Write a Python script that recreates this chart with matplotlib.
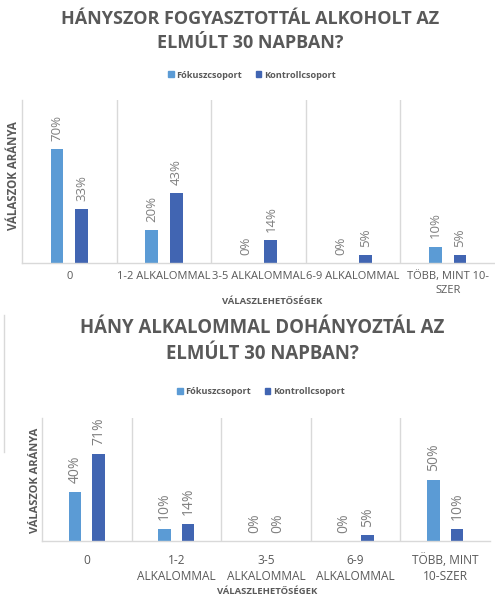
import matplotlib
matplotlib.use("Agg")
import matplotlib.pyplot as plt
import numpy as np
from matplotlib.lines import Line2D

plt.rcParams['font.family'] = ['Open Sans', 'DejaVu Sans']

# ---- data ----
title1 = "HÁNYSZOR FOGYASZTOTTÁL ALKOHOLT AZ\nELMÚLT 30 NAPBAN?"
title2 = "HÁNY ALKALOMMAL DOHÁNYOZTÁL AZ\nELMÚLT 30 NAPBAN?"
series_names = ["Fókuszcsoport", "Kontrollcsoport"]
cats1 = ["0", "1-2 ALKALOMMAL", "3-5 ALKALOMMAL", "6-9 ALKALOMMAL", "TÖBB, MINT 10-\nSZER"]
cats2 = ["0", "1-2\nALKALOMMAL", "3-5\nALKALOMMAL", "6-9\nALKALOMMAL", "TÖBB, MINT\n10-SZER"]
fokusz1 = [0.70, 0.20, 0.00, 0.00, 0.10]
kontroll1 = [0.33, 0.43, 0.14, 0.05, 0.05]
fokusz2 = [0.40, 0.10, 0.00, 0.00, 0.50]
kontroll2 = [0.71, 0.14, 0.00, 0.05, 0.10]
ylabel = "VÁLASZOK ARÁNYA"
xlabel = "VÁLASZLEHETŐSÉGEK"

C_F = "#5B9BD5"
C_K = "#4165B2"
GRAY = "#595959"
LGRAY = "#D9D9D9"

W, H = 495, 600
fig = plt.figure(figsize=(W / 100, H / 100), dpi=100)


def px_axes(left, top, right, bottom):
    return fig.add_axes([left / W, 1 - bottom / H, (right - left) / W, (bottom - top) / H])


def draw(ax, cats, f, k, tick_fs, label_fs, off, bw, pad):
    x = np.arange(len(cats))
    b1 = ax.bar(x - off, f, width=bw, color=C_F)
    b2 = ax.bar(x + off, k, width=bw, color=C_K)
    for bars, vals in ((b1, f), (b2, k)):
        for rect, v in zip(bars, vals):
            ax.annotate(f"{int(round(v * 100))}%",
                        (rect.get_x() + rect.get_width() / 2, v),
                        xytext=(0, 6), textcoords="offset points",
                        rotation=90, ha="center", va="bottom",
                        fontsize=label_fs, color="#7F7F7F")
    ax.set_xlim(-0.5, len(cats) - 0.5)
    ax.set_ylim(0, 1.0)
    ax.set_yticks([])
    ax.set_xticks(x)
    ax.set_xticklabels(cats, fontsize=tick_fs, color=GRAY, linespacing=1.3)
    ax.tick_params(axis="x", length=0, pad=pad)
    for s in ("top", "right"):
        ax.spines[s].set_visible(False)
    for s in ("left", "bottom"):
        ax.spines[s].set_color(LGRAY)
        ax.spines[s].set_linewidth(1.0)
    for g in np.arange(0.5, len(cats) - 1, 1.0):
        ax.axvline(g, color=LGRAY, lw=1.0, zorder=0)
    ax.set_facecolor("none")


h = [plt.Rectangle((0, 0), 1, 1, color=C_F), plt.Rectangle((0, 0), 1, 1, color=C_K)]

# ---- chart 1 ----
fig.text(250 / W, 1 - 31 / H, title1, ha="center", va="center", fontsize=13,
         fontweight="bold", color=GRAY, linespacing=1.45)
ax1 = px_axes(22, 100, 495, 263)
draw(ax1, cats1, fokusz1, kontroll1, 8, 9.5, 0.13, 0.135, 6)
fig.text(14 / W, 1 - 176 / H, ylabel, rotation=90, ha="center", va="center",
         fontsize=8.3, fontweight="bold", color=GRAY)
fig.text(272 / W, 1 - 302 / H, xlabel, ha="center", va="center",
         fontsize=6.8, fontweight="bold", color=GRAY)
fig.legend(h, series_names, loc="center", bbox_to_anchor=(252 / W, 1 - 75 / H),
           ncol=2, frameon=False, handlelength=0.6, handleheight=0.6,
           handletextpad=0.3, columnspacing=1.5, labelcolor=GRAY,
           prop={"weight": "bold", "size": 6.6})

# ---- chart 2 ----
fig.text(262 / W, 1 - 341 / H, title2, ha="center", va="center", fontsize=13.4,
         fontweight="bold", color=GRAY, linespacing=1.45)
ax2 = px_axes(42, 418, 490, 541)
draw(ax2, cats2, fokusz2, kontroll2, 8.6, 10, 0.13, 0.14, 9)
fig.text(35 / W, 1 - 480 / H, ylabel, rotation=90, ha="center", va="center",
         fontsize=8, fontweight="bold", color=GRAY)
fig.text(267 / W, 1 - 591 / H, xlabel, ha="center", va="center",
         fontsize=6.8, fontweight="bold", color=GRAY)
fig.legend(h, series_names, loc="center", bbox_to_anchor=(261 / W, 1 - 392 / H),
           ncol=2, frameon=False, handlelength=0.6, handleheight=0.6,
           handletextpad=0.3, columnspacing=1.5, labelcolor=GRAY,
           prop={"weight": "bold", "size": 6.6})

# thin frame fragment at left edge
fig.add_artist(Line2D([4 / W, 4 / W], [1 - 315 / H, 1 - 452 / H], color=LGRAY, lw=1.0))

fig.savefig("out.png", dpi=100)
